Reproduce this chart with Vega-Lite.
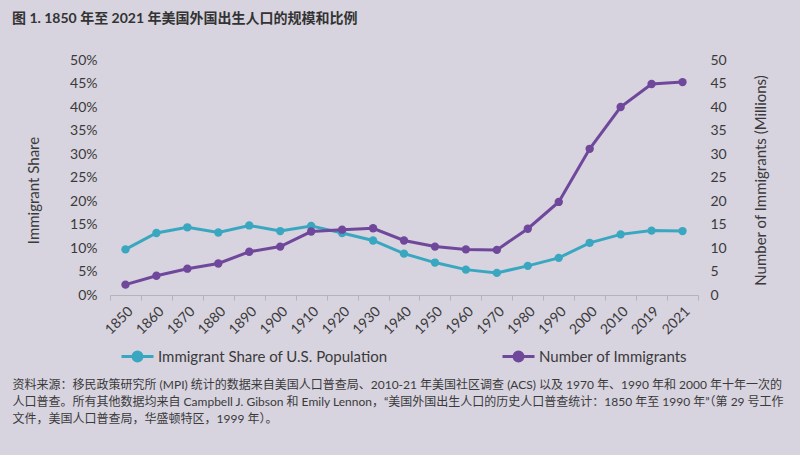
{
  "$schema": "https://vega.github.io/schema/vega-lite/v6.json",
  "width": 588,
  "height": 235,
  "autosize": {"type": "none"},
  "padding": {"left": 110, "top": 60, "right": 102, "bottom": 160},
  "background": "#d7d3df",
  "title": {
    "text": "图 1. 1850 年至 2021 年美国外国出生人口的规模和比例",
    "anchor": "start",
    "frame": "bounds",
    "font": "Lato, Noto Sans CJK SC",
    "fontSize": 14,
    "fontWeight": "bold",
    "color": "#333333",
    "offset": 27
  },
  "config": {
    "view": {"stroke": null},
    "font": "Lato, Noto Sans CJK SC",
    "axis": {"grid": false, "labelFont": "Lato", "titleFont": "Lato", "labelColor": "#3a3a3a", "titleColor": "#3a3a3a", "titleFontWeight": "normal"}
  },
  "data": {
    "values": [
      {"year": "1850", "share": 9.7, "number": 2.2},
      {"year": "1860", "share": 13.2, "number": 4.1},
      {"year": "1870", "share": 14.4, "number": 5.6},
      {"year": "1880", "share": 13.3, "number": 6.7},
      {"year": "1890", "share": 14.8, "number": 9.2},
      {"year": "1900", "share": 13.6, "number": 10.3},
      {"year": "1910", "share": 14.7, "number": 13.5},
      {"year": "1920", "share": 13.2, "number": 13.9},
      {"year": "1930", "share": 11.6, "number": 14.2},
      {"year": "1940", "share": 8.8, "number": 11.6},
      {"year": "1950", "share": 6.9, "number": 10.3},
      {"year": "1960", "share": 5.4, "number": 9.7},
      {"year": "1970", "share": 4.7, "number": 9.6},
      {"year": "1980", "share": 6.2, "number": 14.1},
      {"year": "1990", "share": 7.9, "number": 19.8},
      {"year": "2000", "share": 11.1, "number": 31.1},
      {"year": "2010", "share": 12.9, "number": 40.0},
      {"year": "2019", "share": 13.7, "number": 44.9},
      {"year": "2021", "share": 13.6, "number": 45.3}
    ]
  },
  "encoding": {
    "x": {
      "field": "year",
      "type": "nominal",
      "sort": null,
      "scale": {"type": "band", "paddingInner": 0, "paddingOuter": 0},
      "axis": {
        "title": [
          "资料来源：移民政策研究所 (MPI) 统计的数据来自美国人口普查局、2010-21 年美国社区调查 (ACS) 以及 1970 年、1990 年和 2000 年十年一次的",
          "人口普查。所有其他数据均来自 Campbell J. Gibson 和 Emily Lennon，“美国外国出生人口的历史人口普查统计：1850 年至 1990 年”（第 29 号工作",
          "文件，美国人口普查局，华盛顿特区，1999 年）。"
        ],
        "titleFont": "Lato, Noto Sans CJK SC",
        "titleFontSize": 12,
        "titleColor": "#3a3a3a",
        "titleAlign": "left",
        "titleAnchor": "start",
        "titleBaseline": "top",
        "titleX": -98,
        "titleY": 84,
        "titleLineHeight": 17,
        "labelAngle": 315,
        "labelFontSize": 14,
        "labelPadding": 4,
        "tickBand": "extent",
        "domainColor": "#b5b2bb",
        "tickColor": "#b5b2bb",
        "tickSize": 5
      }
    }
  },
  "layer": [
    {
      "mark": {"type": "line", "strokeWidth": 3, "point": {"filled": true, "size": 70}},
      "encoding": {
        "y": {
          "field": "share",
          "type": "quantitative",
          "scale": {"domain": [0, 50], "nice": false},
          "axis": {
            "orient": "left",
            "title": "Immigrant Share",
            "titleFontSize": 15,
            "titleAngle": 270,
            "titleX": -77,
            "titleY": 130,
            "titleAlign": "center",
            "titleBaseline": "middle",
            "values": [0, 5, 10, 15, 20, 25, 30, 35, 40, 45, 50],
            "labelExpr": "datum.value + '%'",
            "labelFontSize": 14,
            "labelPadding": 13,
            "domain": false,
            "ticks": false
          }
        },
        "color": {
          "datum": "Immigrant Share of U.S. Population",
          "type": "nominal",
          "scale": {"domain": ["Immigrant Share of U.S. Population", "Number of Immigrants"], "range": ["#3aa7c1", "#6f489b"]},
          "legend": {
            "title": null,
            "orient": "none",
            "legendX": 10,
            "legendY": 279,
            "direction": "horizontal",
            "columnPadding": 108,
            "labelFont": "Lato",
            "labelFontSize": 15,
            "labelColor": "#3a3a3a",
            "labelOffset": 3,
            "labelLimit": 400,
            "symbolType": "M-1,0L1,0M0.28,0A0.28,0.28,0,1,1,-0.28,0A0.28,0.28,0,1,1,0.28,0Z",
            "symbolSize": 1024,
            "symbolStrokeWidth": 3
          }
        }
      }
    },
    {
      "mark": {"type": "line", "strokeWidth": 3, "point": {"filled": true, "size": 70}},
      "encoding": {
        "y": {
          "field": "number",
          "type": "quantitative",
          "scale": {"domain": [0, 50], "nice": false},
          "axis": {
            "orient": "right",
            "title": "Number of Immigrants (Millions)",
            "titleFontSize": 15,
            "titleAngle": 270,
            "titleX": 62,
            "titleY": 120,
            "titleAlign": "center",
            "titleBaseline": "middle",
            "values": [0, 5, 10, 15, 20, 25, 30, 35, 40, 45, 50],
            "labelFontSize": 14,
            "labelPadding": 12,
            "domain": false,
            "ticks": false
          }
        },
        "color": {"datum": "Number of Immigrants", "type": "nominal"}
      }
    }
  ],
  "resolve": {"scale": {"y": "independent"}}
}
